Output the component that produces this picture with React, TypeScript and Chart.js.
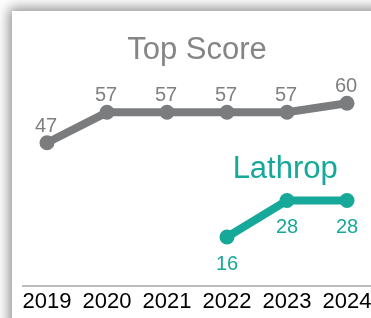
import React, { useEffect, useRef } from 'react';
import { Chart, registerables } from 'chart.js';

Chart.register(...registerables);

const years = ['2019', '2020', '2021', '2022', '2023', '2024'];
const topScore: (number | null)[] = [47, 57, 57, 57, 57, 60];
const lathrop: (number | null)[] = [null, null, null, 16, 28, 28];
const seriesNames = ['Top Score', 'Lathrop'];

const FONT = '"Liberation Sans", Arial, Helvetica, sans-serif';
const GRAY = '#7b7c7e';
const GRAY_TEXT = '#7f7f7f';
const TITLE_GRAY = '#858585';
const TEAL = '#16a899';

export default function App() {
  const ref = useRef<HTMLCanvasElement>(null);

  useEffect(() => {
    if (!ref.current) return;

    const labelPlugin = {
      id: 'valueLabels',
      afterDatasetsDraw(chart: any) {
        const ctx = chart.ctx as CanvasRenderingContext2D;
        ctx.save();
        ctx.textAlign = 'center';
        ctx.textBaseline = 'alphabetic';
        chart.data.datasets.forEach((_: any, di: number) => {
          const meta = chart.getDatasetMeta(di);
          const vals = di === 0 ? topScore : lathrop;
          meta.data.forEach((el: any, i: number) => {
            const v = vals[i];
            if (v == null) return;
            ctx.font = `20px ${FONT}`;
            if (di === 0) {
              ctx.fillStyle = GRAY_TEXT;
              ctx.fillText(String(v), el.x - 1, el.y - 11);
            } else {
              ctx.fillStyle = TEAL;
              ctx.fillText(String(v), el.x, el.y + 33);
            }
          });
        });
        const xs = chart.scales.x;
        const ys = chart.scales.y;
        ctx.font = `31px ${FONT}`;
        ctx.fillStyle = TITLE_GRAY;
        ctx.fillText(seriesNames[0], xs.getPixelForValue(2.5), ys.getPixelForValue(74.7));
        ctx.fillStyle = TEAL;
        ctx.fillText(seriesNames[1], xs.getPixelForValue(3.97), ys.getPixelForValue(35.3));
        ctx.restore();
      },
    };

    const chart = new Chart(ref.current, {
      type: 'line',
      data: {
        datasets: [
          {
            label: seriesNames[0],
            data: years.map((_, i) => ({ x: i, y: topScore[i] })) as any,
            borderColor: GRAY,
            backgroundColor: GRAY,
            pointBackgroundColor: GRAY,
            pointBorderColor: GRAY,
            borderWidth: 8,
            pointRadius: 7.5,
            pointBorderWidth: 0,
            tension: 0,
            clip: false as any,
          },
          {
            label: seriesNames[1],
            data: years.map((_, i) => ({ x: i, y: lathrop[i] })) as any,
            borderColor: TEAL,
            backgroundColor: TEAL,
            pointBackgroundColor: TEAL,
            pointBorderColor: TEAL,
            borderWidth: 8,
            pointRadius: 7.5,
            pointBorderWidth: 0,
            tension: 0,
            clip: false as any,
          },
        ],
      },
      options: {
        responsive: false,
        maintainAspectRatio: false,
        animation: false,
        devicePixelRatio: 1,
        layout: { padding: { left: 23, right: 13, top: 12, bottom: 0 } },
        plugins: {
          legend: { display: false },
          tooltip: { enabled: false },
        },
        scales: {
          x: {
            type: 'linear',
            min: -0.4,
            max: 5.5,
            grid: { display: false, drawTicks: false },
            border: { display: true, color: '#bdbdbd', width: 2 },
            ticks: {
              stepSize: 1,
              includeBounds: false,
              autoSkip: false,
              maxRotation: 0,
              padding: 3,
              color: '#000000',
              font: { size: 22, family: FONT },
              callback: (v: any) => years[v as number] ?? '',
            },
          },
          y: {
            display: false,
            min: 0,
            max: 90,
          },
        },
      },
      plugins: [labelPlugin],
    });

    return () => chart.destroy();
  }, []);

  return (
    <div
      style={{
        position: 'fixed',
        left: 0,
        top: 0,
        width: 371,
        height: 318,
        overflow: 'hidden',
        background: '#ffffff',
      }}
    >
      <div
        style={{
          position: 'absolute',
          left: 12,
          top: 11,
          width: 420,
          height: 340,
          background: '#ffffff',
          boxShadow: '-2px -2px 12px 1px rgba(0,0,0,0.45)',
        }}
      />
      <canvas
        ref={ref}
        width={390}
        height={318}
        style={{ position: 'absolute', left: 0, top: 0, width: 390, height: 318 }}
      />
    </div>
  );
}
